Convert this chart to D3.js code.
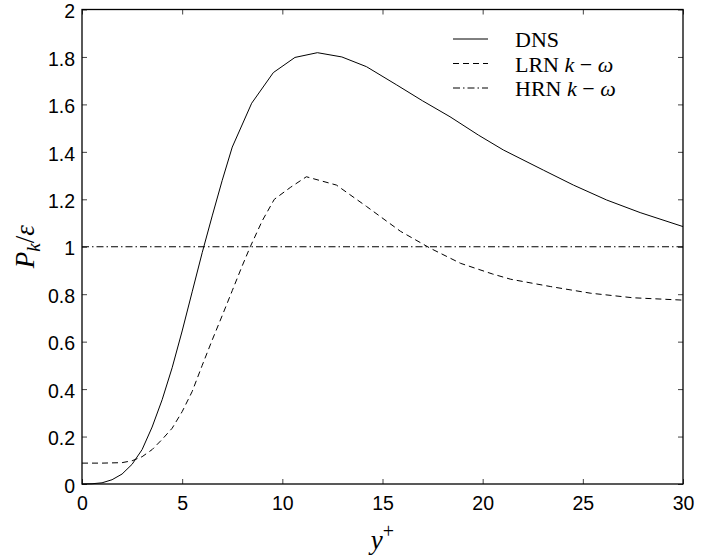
<!DOCTYPE html>
<html>
<head>
<meta charset="utf-8">
<script src="https://cdn.jsdelivr.net/npm/d3@7"></script>
<style>
    body { margin: 0; background: #fff; }
    svg { display: block; }
</style>
</head>
<body>
<div id="chart"><svg></svg></div>
<script>
// y+ positions and Pk/eps values
var dnsX = [0, 0.5, 1, 1.5, 2, 2.5, 3, 3.5, 4, 4.5, 5, 5.5, 6, 6.5, 7, 7.5, 8.47, 9.55, 10.63, 11.75, 12.97, 14.2, 15.71, 17.0, 18.37, 19.8, 21.03, 23.03, 24.53, 26.19, 27.86, 30];
var dnsY = [0, 0.001, 0.005, 0.018, 0.042, 0.083, 0.145, 0.24, 0.355, 0.49, 0.645, 0.81, 0.975, 1.13, 1.28, 1.42, 1.605, 1.734, 1.798, 1.818, 1.80, 1.759, 1.682, 1.615, 1.548, 1.47, 1.408, 1.323, 1.26, 1.197, 1.144, 1.085];

var lrnX = [0, 1, 2, 2.5, 3, 3.5, 4, 4.5, 5, 5.5, 6, 6.5, 7, 7.5, 8, 8.4, 9, 9.6, 10.4, 11.2, 12.7, 14.2, 15.9, 17.4, 18.9, 20.5, 21.4, 23.4, 25.4, 27.5, 30];
var lrnY = [0.088, 0.088, 0.09, 0.098, 0.115, 0.145, 0.188, 0.235, 0.305, 0.39, 0.50, 0.607, 0.71, 0.815, 0.92, 1.0, 1.11, 1.2, 1.25, 1.295, 1.26, 1.17, 1.065, 0.993, 0.93, 0.885, 0.863, 0.832, 0.804, 0.785, 0.775];

var hrnX = [0, 30];
var hrnY = [1, 1];

var xTicks = [0, 5, 10, 15, 20, 25, 30];
var yTicks = [0, 0.2, 0.4, 0.6, 0.8, 1, 1.2, 1.4, 1.6, 1.8, 2];

var seriesNames = ["DNS", "LRN", "HRN"];
var seriesDash = [null, "6,4", "7,3,1.5,3"];

var width = 724,
    height = 558,
    margin = {left: 82, right: 41, top: 9.5, bottom: 74};

var sansFont = "'Liberation Sans', Arial, Helvetica, sans-serif",
    serifFont = "'Liberation Serif', 'Times New Roman', serif";

var svg = d3.select('#chart').select('svg')
    .attr('width', width)
    .attr('height', height);

var x = d3.scaleLinear().domain([0, 30]).range([margin.left, width - margin.right]);
var y = d3.scaleLinear().domain([0, 2]).range([height - margin.bottom, margin.top]);

var tickLen = 5;

// inward ticks on all four sides
var xBottom = d3.axisBottom(x).tickValues(xTicks).tickSize(-tickLen).tickPadding(12).tickFormat(d3.format('d'));
var xTop = d3.axisTop(x).tickValues(xTicks).tickSize(-tickLen).tickFormat('');
var yLeft = d3.axisLeft(y).tickValues(yTicks).tickSize(-tickLen).tickPadding(7).tickFormat(function(d) { return d3.format('')(+d.toFixed(1)); });
var yRight = d3.axisRight(y).tickValues(yTicks).tickSize(-tickLen).tickFormat('');

function styleAxis(g) {
    g.select('.domain').remove();
    g.selectAll('.tick line').attr('stroke', '#444').attr('stroke-width', 1);
    g.selectAll('.tick text')
        .attr('fill', '#000')
        .style('font-family', sansFont)
        .style('font-size', '19.5px');
}

svg.append('g').attr('transform', 'translate(0,' + y(0) + ')').call(xBottom).call(styleAxis);
svg.append('g').attr('transform', 'translate(0,' + y(2) + ')').call(xTop).call(styleAxis);
svg.append('g').attr('transform', 'translate(' + x(0) + ',0)').call(yLeft).call(styleAxis)
    .selectAll('.tick text').attr('dy', '0.42em');
svg.append('g').attr('transform', 'translate(' + x(30) + ',0)').call(yRight).call(styleAxis);

// box
svg.append('rect')
    .attr('x', x(0))
    .attr('y', y(2))
    .attr('width', x(30) - x(0))
    .attr('height', y(0) - y(2))
    .attr('fill', 'none')
    .attr('stroke', '#000')
    .attr('stroke-width', 1.3);

var line = d3.line()
    .x(function(d) { return x(d[0]); })
    .y(function(d) { return y(d[1]); });

var series = [
    d3.zip(dnsX, dnsY),
    d3.zip(lrnX, lrnY),
    d3.zip(hrnX, hrnY)
];

svg.selectAll('path.series')
    .data(series)
    .enter()
        .append('path')
            .attr('class', 'series')
            .attr('d', line)
            .attr('fill', 'none')
            .attr('stroke', '#000')
            .attr('stroke-width', 1)
            .attr('stroke-dasharray', function(d, i) { return seriesDash[i]; });

// legend
var legend = svg.append('g').attr('transform', 'translate(453,39)');
var rowGap = 24.5;

legend.selectAll('line')
    .data(seriesNames)
    .enter()
        .append('line')
            .attr('x1', 0)
            .attr('x2', 35)
            .attr('y1', function(d, i) { return i * rowGap; })
            .attr('y2', function(d, i) { return i * rowGap; })
            .attr('stroke', '#000')
            .attr('stroke-width', 1)
            .attr('stroke-dasharray', function(d, i) { return seriesDash[i]; });

var labels = legend.selectAll('text')
    .data(seriesNames)
    .enter()
        .append('text')
            .attr('x', 62)
            .attr('y', function(d, i) { return i * rowGap + 8; })
            .style('font-family', serifFont)
            .style('font-size', '22px');

labels.append('tspan').text(function(d) { return d; });
labels.filter(function(d) { return d !== 'DNS'; })
    .each(function() {
        var t = d3.select(this);
        t.append('tspan').text(' ');
        t.append('tspan').style('font-style', 'italic').text('k');
        t.append('tspan').text(' \u2212 ');
        t.append('tspan').style('font-style', 'italic').text('\u03c9');
    });

// axis titles
var xTitle = svg.append('text')
    .attr('x', (x(0) + x(30)) / 2)
    .attr('y', 549)
    .attr('text-anchor', 'middle')
    .style('font-family', serifFont)
    .style('font-size', '27px');
xTitle.append('tspan').style('font-style', 'italic').text('y');
xTitle.append('tspan').attr('dy', -11).style('font-size', '20px').text('+');

var yTitle = svg.append('text')
    .attr('transform', 'translate(34,' + ((y(0) + y(2)) / 2) + ') rotate(-90)')
    .attr('text-anchor', 'middle')
    .style('font-family', serifFont)
    .style('font-size', '27px');
yTitle.append('tspan').style('font-style', 'italic').text('P');
yTitle.append('tspan').attr('dy', 6).style('font-style', 'italic').style('font-size', '19px').text('k');
yTitle.append('tspan').attr('dy', -6).text('/');
yTitle.append('tspan').style('font-style', 'italic').text('\u03b5');
</script>
</body>
</html>
